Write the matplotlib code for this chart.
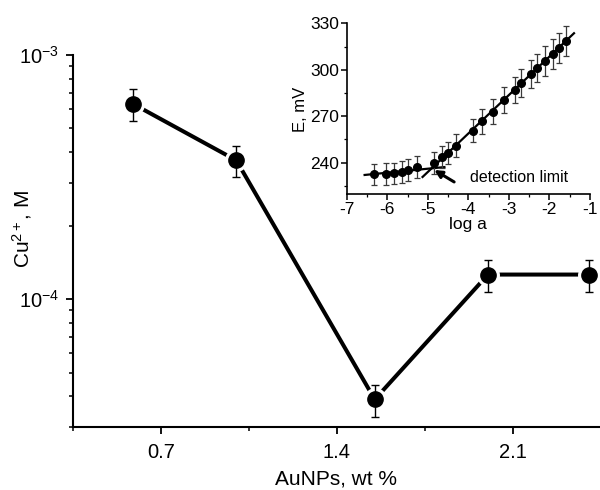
import matplotlib
matplotlib.use("Agg")
import matplotlib.pyplot as plt
from matplotlib.ticker import LogLocator, NullFormatter, MultipleLocator, FixedLocator

plt.rcParams['font.family'] = ['Liberation Sans', 'DejaVu Sans']
plt.rcParams['mathtext.fontset'] = 'custom'
plt.rcParams['mathtext.rm'] = 'Liberation Sans'
plt.rcParams['mathtext.it'] = 'Liberation Sans:italic'
plt.rcParams['mathtext.bf'] = 'Liberation Sans:bold'
plt.rcParams['axes.unicode_minus'] = False

# Detection limit of Cu2+ versus gold nanoparticle loading
aunps_wt = [0.59, 1.0, 1.55, 2.0, 2.4]
cu_conc = [6.3e-4, 3.7e-4, 3.88e-5, 1.26e-4, 1.26e-4]
cu_err = [0.93e-4, 0.55e-4, 0.58e-5, 0.19e-4, 0.19e-4]
main_xticks = [0.7, 1.4, 2.1]
main_xticklabels = ["0.7", "1.4", "2.1"]

# Inset: electrode potential versus log activity
log_a = [-6.33, -6.03, -5.84, -5.64, -5.49, -5.27, -4.85, -4.64, -4.51, -4.30,
         -3.88, -3.67, -3.40, -3.11, -2.84, -2.69, -2.45, -2.31, -2.11, -1.91,
         -1.77, -1.59]
emf_mv = [232.5, 232.9, 233.1, 234.0, 235.3, 237.4, 240.0, 243.9, 246.4, 251.1,
          260.8, 266.8, 273.0, 280.3, 287.1, 291.4, 297.0, 301.3, 305.6, 310.3,
          314.1, 318.6]
emf_err = [7, 7, 7, 7, 7, 7, 7, 7, 7, 7.5,
           7.7, 8, 8, 8.5, 8.5, 9, 9, 9, 9.5, 9.5,
           9.5, 9.6]
# Linear fits: low-activity plateau and Nernstian section
flat_fit_x = [-6.56, -4.59]
flat_fit_y = [232.1, 237.2]
slope_fit_x = [-5.13, -1.39]
slope_fit_y = [230.8, 323.6]
arrow_tail = (-4.35, 227.6)
arrow_head = (-4.84, 235.3)

fig = plt.figure(figsize=(6.0, 4.9), dpi=100)
ax = fig.add_axes([0.1212, 0.1292, 0.8788, 0.7586])

# connecting line with white gaps around markers
ax.plot(aunps_wt, cu_conc, color='black', lw=2.9, zorder=2, solid_capstyle='butt')
ax.plot(aunps_wt, cu_conc, ls='none', marker='o', ms=15.5, mfc='white', mec='white', zorder=3)
ax.errorbar(aunps_wt, cu_conc, yerr=cu_err, fmt='none', ecolor='black',
            elinewidth=1.0, capsize=3.2, capthick=1.0, zorder=4)
ax.plot(aunps_wt, cu_conc, ls='none', marker='o', ms=11, mfc='black', mec='black', zorder=5)

ax.set_yscale('log')
ax.set_ylim(3.0e-5, 1e-3)
ax.set_xlim(0.35, 2.445)
ax.set_xticks(main_xticks)
ax.set_xticklabels(main_xticklabels)
ax.xaxis.set_minor_locator(FixedLocator([0.35, 1.05, 1.75, 2.45]))
ax.yaxis.set_major_locator(FixedLocator([1e-4, 1e-3]))
ax.set_yticklabels([r"10$^{-4}$", r"10$^{-3}$"])
ax.yaxis.set_minor_locator(LogLocator(base=10, subs=range(2, 10)))
ax.yaxis.set_minor_formatter(NullFormatter())

for side in ('top', 'right'):
    ax.spines[side].set_visible(False)
for side in ('left', 'bottom'):
    ax.spines[side].set_linewidth(1.5)
ax.tick_params(which='major', direction='out', length=5, width=1.3, labelsize=14.5, pad=7)
ax.tick_params(which='minor', direction='out', length=3, width=1.1)
ax.tick_params(axis='y', which='major', pad=5)

ax.set_xlabel("AuNPs, wt %", fontsize=15)
ax.xaxis.set_label_coords(0.5, -0.115)
ax.set_ylabel(r"Cu$^{2+}$, M", fontsize=15)
ax.yaxis.set_label_coords(-0.074, 0.533)

# inset
ins = fig.add_axes([0.578, 0.6031, 0.405, 0.3493])
ins.plot(flat_fit_x, flat_fit_y, color='black', lw=1.6, zorder=2)
ins.plot(slope_fit_x, slope_fit_y, color='black', lw=1.6, zorder=2)
ins.errorbar(log_a, emf_mv, yerr=emf_err, fmt='none', ecolor='#3a3a3a',
             elinewidth=0.9, capsize=2.0, capthick=0.9, zorder=3)
ins.plot(log_a, emf_mv, ls='none', marker='o', ms=5.5, color='black', zorder=4)
ins.annotate("", xy=arrow_head, xytext=arrow_tail,
             arrowprops=dict(arrowstyle='-|>', lw=2.2, color='black', mutation_scale=11,
                             shrinkA=0, shrinkB=0), zorder=5)
ins.text(-3.96, 230.4, "detection limit", fontsize=11.5, va='center', ha='left')

ins.set_xlim(-7, -1)
ins.set_ylim(219.5, 330)
ins.xaxis.set_major_locator(MultipleLocator(1))
ins.xaxis.set_minor_locator(MultipleLocator(0.5))
ins.yaxis.set_major_locator(FixedLocator([240, 270, 300, 330]))
ins.yaxis.set_minor_locator(FixedLocator([225, 255, 285, 315]))
for side in ('top', 'right'):
    ins.spines[side].set_visible(False)
for side in ('left', 'bottom'):
    ins.spines[side].set_linewidth(1.2)
ins.patch.set_alpha(0)
ins.tick_params(which='major', direction='out', length=4.3, width=1.1, labelsize=12.5, pad=1)
ins.tick_params(which='minor', direction='out', length=2.5, width=0.9)
ins.set_xlabel("log a", fontsize=12.5, labelpad=0)
ins.set_ylabel("E, mV", fontsize=12, labelpad=2)

fig.savefig("out.png", dpi=100)
